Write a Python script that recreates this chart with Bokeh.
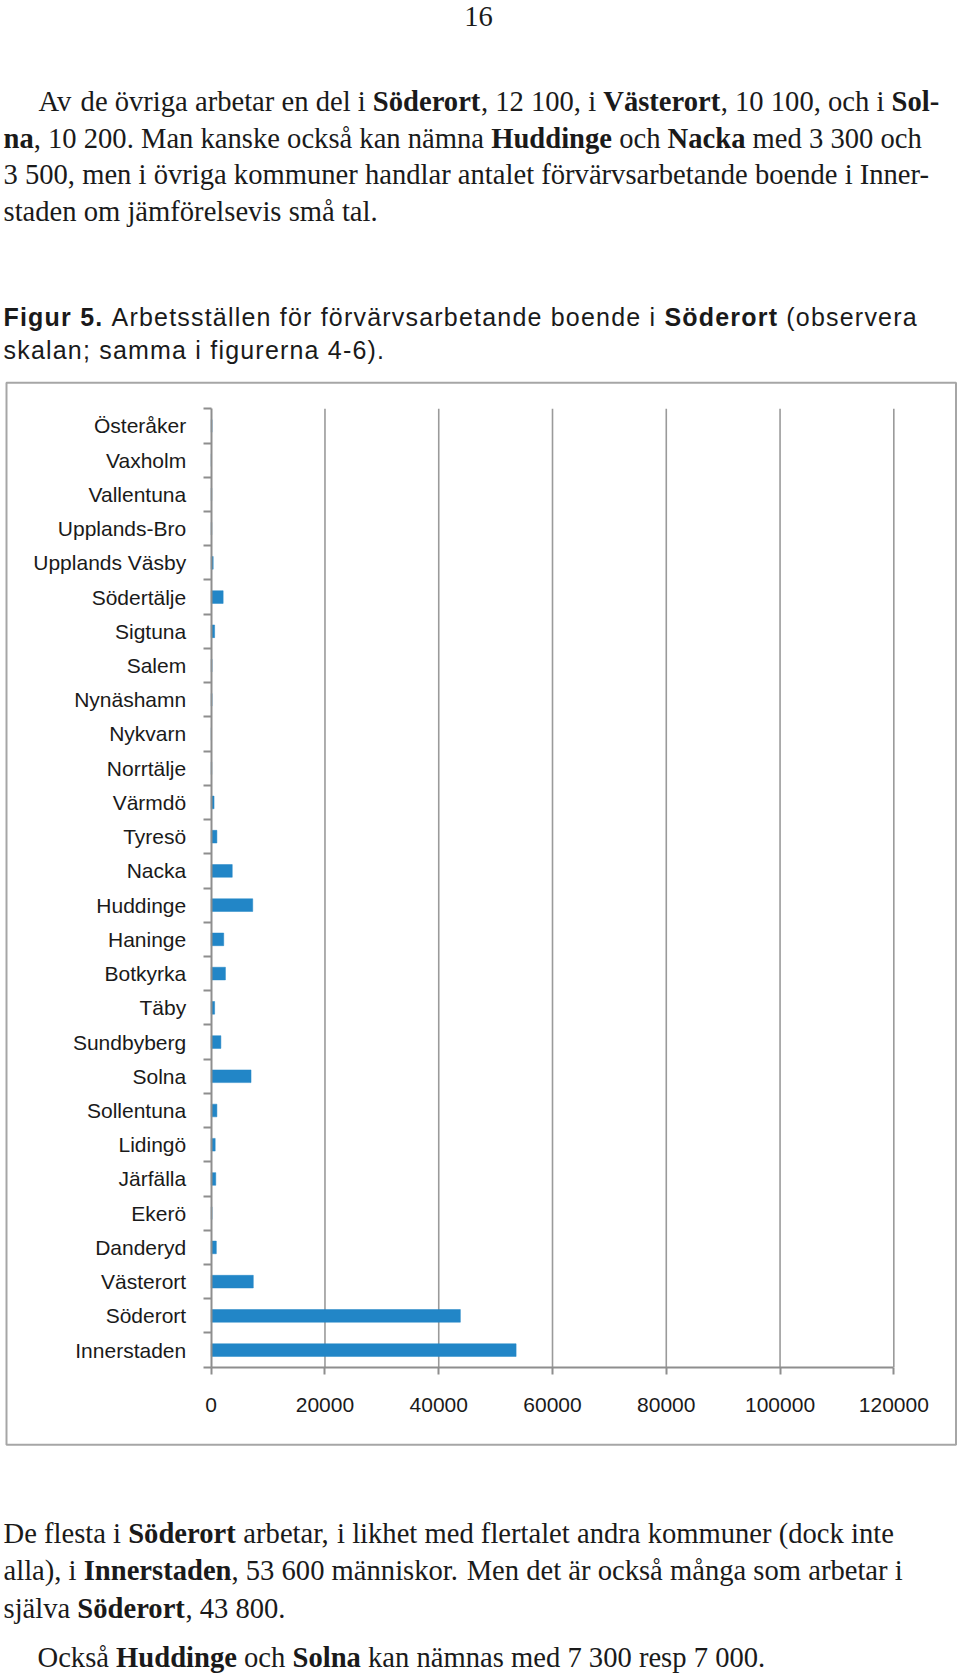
from bokeh.plotting import figure
from bokeh.models import Range1d, LinearAxis, FixedTicker, ColumnDataSource, NumeralTickFormatter
from bokeh.layouts import column
from bokeh.embed import file_html
from bokeh.resources import INLINE
from bokeh.core.properties import value

# ---------------- data ----------------
categories = ["Österåker", "Vaxholm", "Vallentuna", "Upplands-Bro", "Upplands Väsby",
              "Södertälje", "Sigtuna", "Salem", "Nynäshamn", "Nykvarn", "Norrtälje",
              "Värmdö", "Tyresö", "Nacka", "Huddinge", "Haninge", "Botkyrka", "Täby",
              "Sundbyberg", "Solna", "Sollentuna", "Lidingö", "Järfälla", "Ekerö",
              "Danderyd", "Västerort", "Söderort", "Innerstaden"]
workers = [150, 50, 100, 100, 350,
           2100, 600, 150, 150, 50, 100,
           500, 1000, 3700, 7300, 2200, 2500, 600,
           1700, 7000, 1000, 700, 800, 150,
           900, 7400, 43800, 53600]
x_ticks = [0, 20000, 40000, 60000, 80000, 100000, 120000]

page_number = "16"
para_top = [
    [("Av de övriga arbetar en del i ", 0), ("Söderort", 1), (", 12 100, i ", 0), ("Västerort", 1),
     (", 10 100, och i ", 0), ("Sol-", 1)],
    [("na", 1), (", 10 200. Man kanske också kan nämna ", 0), ("Huddinge", 1), (" och ", 0),
     ("Nacka", 1), (" med 3 300 och", 0)],
    [("3 500, men i övriga kommuner handlar antalet förvärvsarbetande boende i Inner-", 0)],
    [("staden om jämförelsevis små tal.", 0)],
]
caption = [
    [("Figur 5.", 1), (" Arbetsställen för förvärvsarbetande boende i ", 0), ("Söderort", 1),
     (" (observera", 0)],
    [("skalan; samma i figurerna 4-6).", 0)],
]
para_bottom = [
    [("De flesta i ", 0), ("Söderort", 1), (" arbetar, i likhet med flertalet andra kommuner (dock inte", 0)],
    [("alla), i ", 0), ("Innerstaden", 1), (", 53 600 människor. Men det är också många som arbetar i", 0)],
    [("själva ", 0), ("Söderort", 1), (", 43 800.", 0)],
    [("Också ", 0), ("Huddinge", 1), (" och ", 0), ("Solna", 1), (" kan nämnas med 7 300 resp 7 000.", 0)],
]

# ---------------- font metrics (per 1000 em) ----------------
serif_reg = {" ": 250, ",": 250, ".": 250, "-": 333, "(": 333, ")": 333, ";": 278,
             "A": 722, "D": 722, "H": 722, "I": 333, "M": 889, "N": 722, "O": 722, "S": 556, "V": 722,
             "a": 444, "b": 500, "c": 444, "d": 500, "e": 444, "f": 333, "g": 500, "h": 500, "i": 278,
             "j": 278, "k": 500, "l": 278, "m": 778, "n": 500, "o": 500, "p": 500, "q": 500, "r": 333,
             "s": 389, "t": 278, "u": 500, "v": 500, "w": 722, "x": 500, "y": 500, "z": 444,
             "å": 444, "ä": 444, "ö": 500}
serif_bold = {" ": 250, ",": 250, ".": 250, "-": 333,
              "H": 778, "I": 389, "N": 722, "S": 556, "V": 722,
              "a": 500, "c": 444, "d": 556, "e": 444, "g": 500, "i": 278, "k": 556, "l": 278,
              "n": 556, "o": 500, "r": 444, "s": 389, "t": 333, "u": 556, "ä": 500, "ö": 500}
sans_reg = {" ": 278, "(": 333, ")": 333, "-": 333, ".": 278, ";": 278, "A": 667, "S": 667,
            "a": 556, "b": 556, "c": 500, "d": 556, "e": 556, "f": 278, "g": 556, "h": 556, "i": 222,
            "j": 222, "k": 500, "l": 222, "m": 833, "n": 556, "o": 556, "p": 556, "r": 333, "s": 500,
            "t": 278, "u": 556, "v": 500, "y": 500, "ä": 556, "ö": 556, "å": 556}
sans_bold = {" ": 278, ".": 278, "F": 611, "S": 667, "i": 278, "g": 611, "u": 611, "r": 389,
             "d": 611, "e": 556, "o": 611, "t": 333, "ö": 611}


def width(s, table, size, track=0.0):
    dflt = 556 if table in (sans_reg, sans_bold) else 500
    return sum(table.get(ch, dflt) for ch in s) / 1000.0 * size + track * len(s)


def place(lines, starts, baselines, size, tables, track=0.0):
    out = {0: dict(x=[], y=[], t=[]), 1: dict(x=[], y=[], t=[])}
    for line, x0, yb in zip(lines, starts, baselines):
        x = x0
        for txt, bold in line:
            tbl = tables[bold]
            i = 0
            while i < len(txt):
                if txt[i] == " ":
                    x += width(" ", tbl, size, track)
                    i += 1
                    continue
                j = i
                while j < len(txt) and txt[j] != " ":
                    j += 1
                word = txt[i:j]
                out[bold]["x"].append(x)
                out[bold]["y"].append(yb)
                out[bold]["t"].append(word)
                x += width(word, tbl, size, track)
                i = j
    return out


W = 960
H1, H2, H3 = 262, 110, 1305
SERIF = "Liberation Serif"
SANS = "Liberation Sans"
BODY = 28.6
INK = "#1a1a1a"
grey = "#8e8e8e"


def page_fig(h, styles=None):
    kw = dict(width=W, height=h, x_range=Range1d(0, W), y_range=Range1d(h, 0),
              x_axis_type=None, y_axis_type=None, toolbar_location=None,
              output_backend="svg", min_border=0, outline_line_color=None)
    if styles:
        kw["styles"] = styles
    f = figure(**kw)
    f.grid.visible = False
    return f


def draw_text(f, groups, font, size):
    for bold in (0, 1):
        g = groups[bold]
        if g["t"]:
            f.text(x="x", y="y", text="t", source=ColumnDataSource(g),
                   text_font=value(font), text_font_size=f"{size}px",
                   text_font_style="bold" if bold else "normal",
                   text_align="left", text_baseline="alphabetic", text_color=INK)


# ---------------- page number and first paragraph ----------------
f1 = page_fig(H1)
f1.text(x=[478], y=[15.6], text=[page_number], text_font=value(SERIF), text_font_size=f"{BODY}px",
        text_align="center", text_baseline="alphabetic", text_color=INK)
draw_text(f1, place(para_top, [38, 3, 3, 3], [100.9, 137.6, 174.3, 211.1], BODY,
                    (serif_reg, serif_bold)), SERIF, BODY)

# ---------------- caption (tracked sans) ----------------
CAP = 25
TRACK = 1.2
f2 = page_fig(H2, styles={"letter-spacing": f"{TRACK}px"})
draw_text(f2, place(caption, [3, 3], [54, 87.2], CAP, (sans_reg, sans_bold), track=TRACK), SANS, CAP)

# ---------------- chart + closing paragraphs ----------------
f3 = page_fig(H3)
f3.extra_x_ranges = {"cx": Range1d(-37040, 131722)}
f3.extra_y_ranges = {"cy": Range1d(-9.565, 28.561)}

# frame around the chart
f3.quad(left=[6], right=[955.5], top=[10.3], bottom=[1072.3], fill_color=None,
        line_color="#a6a6a6", line_width=2)

ypos = [len(categories) - 1 - i for i in range(len(categories))]
src = ColumnDataSource(dict(y=ypos, v=workers, cat=categories))
top_b = len(categories) - 0.5
grid_x = [t for t in x_ticks if t > 0]
f3.segment(x0=grid_x, x1=grid_x, y0=[-0.5] * len(grid_x), y1=[top_b] * len(grid_x),
           line_color="#9a9a9a", line_width=1.6, x_range_name="cx", y_range_name="cy")
f3.hbar(y="y", left=0, right="v", height=0.37, source=src, fill_color="#2286c7",
        line_color="#2286c7", line_width=0.5, x_range_name="cx", y_range_name="cy")

xaxis = LinearAxis(x_range_name="cx", y_range_name="cy",
                   ticker=FixedTicker(ticks=x_ticks), bounds=(0, 120000), fixed_location=-0.5,
                   formatter=NumeralTickFormatter(format="0"),
                   axis_line_color=grey, axis_line_width=2,
                   major_tick_line_color=grey, major_tick_line_width=2,
                   major_tick_in=0, major_tick_out=7, minor_tick_line_color=None,
                   major_label_standoff=24, major_label_text_font=SANS,
                   major_label_text_font_size="21px", major_label_text_color=INK)
f3.add_layout(xaxis, "below")

bounds_ticks = [k - 0.5 for k in range(len(categories) + 1)]
yaxis = LinearAxis(x_range_name="cx", y_range_name="cy",
                   ticker=FixedTicker(ticks=ypos, minor_ticks=bounds_ticks),
                   bounds=(-0.5, top_b), fixed_location=0,
                   major_label_overrides={y: c for y, c in zip(ypos, categories)},
                   axis_line_color=grey, axis_line_width=2,
                   major_tick_line_color=None, major_tick_in=0, major_tick_out=8,
                   minor_tick_line_color=grey, minor_tick_line_width=2,
                   minor_tick_in=0, minor_tick_out=8,
                   major_label_standoff=17, major_label_text_font=SANS,
                   major_label_text_font_size="21px", major_label_text_color=INK)
f3.add_layout(yaxis, "left")

draw_text(f3, place(para_bottom, [3, 3, 3, 37], [1160.8, 1198.4, 1235.8, 1285.1], BODY,
                    (serif_reg, serif_bold)), SERIF, BODY)

layout = column(f1, f2, f3, spacing=0)
open("out.html", "w").write(file_html(layout, INLINE))
